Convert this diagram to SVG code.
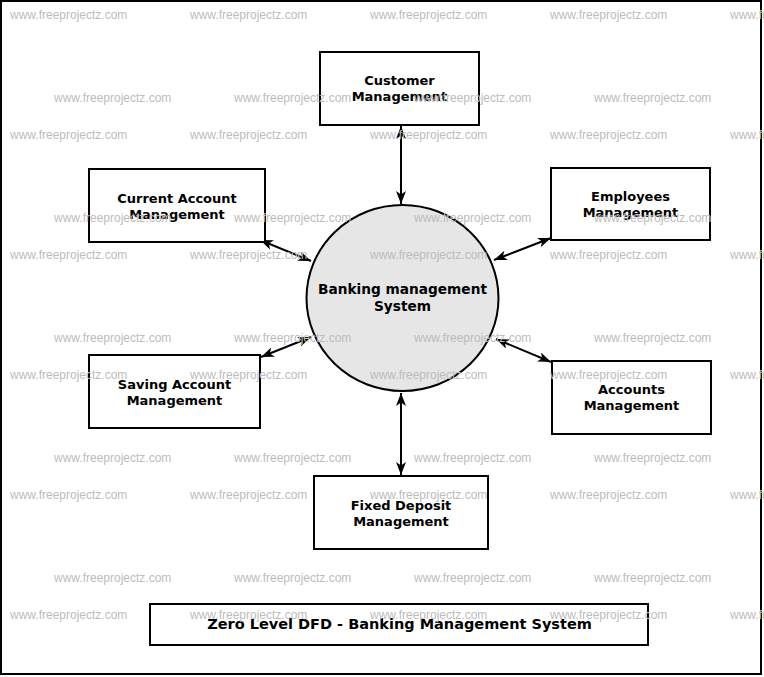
<svg xmlns="http://www.w3.org/2000/svg" width="764" height="677" viewBox="0 0 764 677">
<style>
.box{fill:#fff;stroke:#000;stroke-width:2}
.lbl{font-family:"DejaVu Sans",sans-serif;font-weight:bold;font-size:13px;fill:#000;text-anchor:middle}
.wm{font-family:"Liberation Sans",Arial,sans-serif;font-size:12px;fill:#bcbcbc}
.con{stroke:#000;stroke-width:2;fill:none;marker-start:url(#ah);marker-end:url(#ah)}
</style>
<defs>
<marker id="ah" markerUnits="userSpaceOnUse" markerWidth="14" markerHeight="11" refX="13" refY="5" orient="auto-start-reverse" viewBox="0 0 14 11">
<path d="M0,0 L13,5 L0,10 L3.5,5 Z" fill="#000"/>
</marker>
</defs>
<rect x="0" y="0" width="764" height="677" fill="#fff"/>
<rect x="1" y="1" width="760" height="673" fill="none" stroke="#000" stroke-width="2"/>

<g id="connectors">
<line class="con" x1="401" y1="126" x2="401" y2="204"/>
<line class="con" x1="260" y1="240" x2="311" y2="261"/>
<line class="con" x1="551" y1="238" x2="494" y2="260"/>
<line class="con" x1="261" y1="357" x2="311" y2="337"/>
<line class="con" x1="551" y1="362" x2="496" y2="339"/>
<line class="con" x1="401" y1="393" x2="401" y2="475"/>
</g>

<g id="banking-system">
<ellipse cx="402.5" cy="298" rx="96" ry="93" fill="#e6e6e6" stroke="#000" stroke-width="2"/>
<text class="lbl" style="font-size:13.7px" x="402.5" y="294">Banking management</text>
<text class="lbl" style="font-size:13.7px" x="402.5" y="311">System</text>
</g>

<g id="customer">
<rect class="box" x="320" y="52" width="159" height="73"/>
<text class="lbl" x="399.5" y="85">Customer</text>
<text class="lbl" x="399.5" y="101">Management</text>
</g>

<g id="current-account">
<rect class="box" x="89" y="169" width="176" height="73"/>
<text class="lbl" x="177" y="203">Current Account</text>
<text class="lbl" x="177" y="219">Management</text>
</g>

<g id="employees">
<rect class="box" x="551" y="168" width="159" height="72"/>
<text class="lbl" x="630.5" y="201">Employees</text>
<text class="lbl" x="630.5" y="217">Management</text>
</g>

<g id="saving-account">
<rect class="box" x="89" y="355" width="171" height="73"/>
<text class="lbl" x="174.5" y="389">Saving Account</text>
<text class="lbl" x="174.5" y="405">Management</text>
</g>

<g id="accounts">
<rect class="box" x="552" y="361" width="159" height="73"/>
<text class="lbl" x="631.5" y="394">Accounts</text>
<text class="lbl" x="631.5" y="410">Management</text>
</g>

<g id="fixed-deposit">
<rect class="box" x="314" y="476" width="174" height="73"/>
<text class="lbl" x="401" y="510">Fixed Deposit</text>
<text class="lbl" x="401" y="526">Management</text>
</g>

<g id="title">
<rect class="box" x="150" y="604" width="498" height="41"/>
<text class="lbl" style="font-size:14.5px" x="399.5" y="629">Zero Level DFD - Banking Management System</text>
</g>

<g id="watermarks">
<text class="wm" x="10" y="19">www.freeprojectz.com</text>
<text class="wm" x="190" y="19">www.freeprojectz.com</text>
<text class="wm" x="370" y="19">www.freeprojectz.com</text>
<text class="wm" x="550" y="19">www.freeprojectz.com</text>
<text class="wm" x="730" y="19">www.freeprojectz.com</text>
<text class="wm" x="54" y="102">www.freeprojectz.com</text>
<text class="wm" x="234" y="102">www.freeprojectz.com</text>
<text class="wm" x="414" y="102">www.freeprojectz.com</text>
<text class="wm" x="594" y="102">www.freeprojectz.com</text>
<text class="wm" x="10" y="139">www.freeprojectz.com</text>
<text class="wm" x="190" y="139">www.freeprojectz.com</text>
<text class="wm" x="370" y="139">www.freeprojectz.com</text>
<text class="wm" x="550" y="139">www.freeprojectz.com</text>
<text class="wm" x="730" y="139">www.freeprojectz.com</text>
<text class="wm" x="54" y="222">www.freeprojectz.com</text>
<text class="wm" x="234" y="222">www.freeprojectz.com</text>
<text class="wm" x="414" y="222">www.freeprojectz.com</text>
<text class="wm" x="594" y="222">www.freeprojectz.com</text>
<text class="wm" x="10" y="259">www.freeprojectz.com</text>
<text class="wm" x="190" y="259">www.freeprojectz.com</text>
<text class="wm" x="370" y="259">www.freeprojectz.com</text>
<text class="wm" x="550" y="259">www.freeprojectz.com</text>
<text class="wm" x="730" y="259">www.freeprojectz.com</text>
<text class="wm" x="54" y="342">www.freeprojectz.com</text>
<text class="wm" x="234" y="342">www.freeprojectz.com</text>
<text class="wm" x="414" y="342">www.freeprojectz.com</text>
<text class="wm" x="594" y="342">www.freeprojectz.com</text>
<text class="wm" x="10" y="379">www.freeprojectz.com</text>
<text class="wm" x="190" y="379">www.freeprojectz.com</text>
<text class="wm" x="370" y="379">www.freeprojectz.com</text>
<text class="wm" x="550" y="379">www.freeprojectz.com</text>
<text class="wm" x="730" y="379">www.freeprojectz.com</text>
<text class="wm" x="54" y="462">www.freeprojectz.com</text>
<text class="wm" x="234" y="462">www.freeprojectz.com</text>
<text class="wm" x="414" y="462">www.freeprojectz.com</text>
<text class="wm" x="594" y="462">www.freeprojectz.com</text>
<text class="wm" x="10" y="499">www.freeprojectz.com</text>
<text class="wm" x="190" y="499">www.freeprojectz.com</text>
<text class="wm" x="370" y="499">www.freeprojectz.com</text>
<text class="wm" x="550" y="499">www.freeprojectz.com</text>
<text class="wm" x="730" y="499">www.freeprojectz.com</text>
<text class="wm" x="54" y="582">www.freeprojectz.com</text>
<text class="wm" x="234" y="582">www.freeprojectz.com</text>
<text class="wm" x="414" y="582">www.freeprojectz.com</text>
<text class="wm" x="594" y="582">www.freeprojectz.com</text>
<text class="wm" x="10" y="619">www.freeprojectz.com</text>
<text class="wm" x="190" y="619">www.freeprojectz.com</text>
<text class="wm" x="370" y="619">www.freeprojectz.com</text>
<text class="wm" x="550" y="619">www.freeprojectz.com</text>
<text class="wm" x="730" y="619">www.freeprojectz.com</text>
</g>
</svg>
